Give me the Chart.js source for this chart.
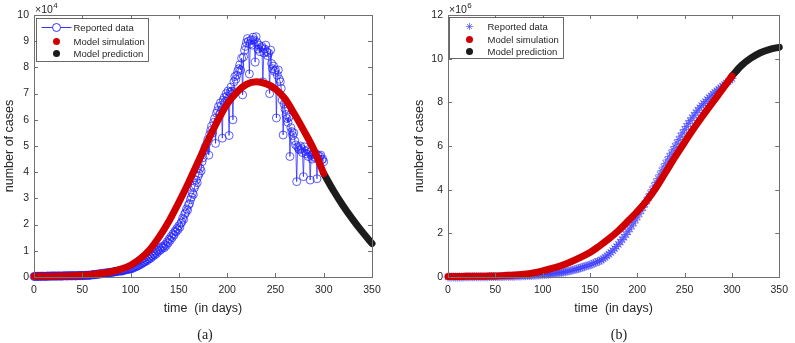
<!DOCTYPE html>
<html>
<head>
<meta charset="utf-8">
<script src="https://cdn.jsdelivr.net/npm/chart.js@4.4.0/dist/chart.umd.min.js"></script>
<style>
body { margin: 0; background: #fff; width: 795px; height: 343px; position: relative; overflow: hidden; }
canvas { position: absolute; top: 0; }
#chartA { left: 0; }
#chartB { left: 400px; }
.cap { position: absolute; top: 326px; width: 40px; text-align: center; line-height: 18px;
       font-family: "Liberation Serif", "Times New Roman", serif; font-size: 14px; color: #222; }
</style>
</head>
<body>
<canvas id="chartA" width="400" height="343"></canvas>
<canvas id="chartB" width="395" height="343"></canvas>
<div class="cap" style="left:185px">(a)</div>
<div class="cap" style="left:599px">(b)</div>
<script>
// (a) daily reported cases, one value per day from day 0 to 300 (x 10^4)
const dailyReported = [
  0.02,0.02,0.03,0.02,0.03,0.03,0.02,0.03,0.03,0.03,
  0.03,0.03,0.02,0.03,0.04,0.03,0.03,0.04,0.03,0.04,
  0.04,0.03,0.04,0.04,0.03,0.04,0.04,0.04,0.03,0.04,
  0.04,0.04,0.05,0.04,0.04,0.05,0.04,0.05,0.05,0.04,
  0.05,0.05,0.05,0.04,0.05,0.05,0.06,0.05,0.05,0.06,
  0.06,0.05,0.06,0.06,0.07,0.06,0.07,0.07,0.06,0.08,
  0.08,0.09,0.08,0.10,0.09,0.11,0.10,0.12,0.11,0.13,
  0.13,0.12,0.14,0.15,0.14,0.16,0.15,0.17,0.16,0.18,
  0.18,0.17,0.20,0.19,0.21,0.20,0.22,0.21,0.24,0.23,
  0.24,0.22,0.26,0.25,0.28,0.27,0.30,0.28,0.32,0.30,
  0.33,0.31,0.36,0.35,0.40,0.38,0.43,0.41,0.47,0.45,
  0.52,0.49,0.56,0.54,0.60,0.58,0.65,0.62,0.70,0.68,
  0.76,0.72,0.82,0.79,0.88,0.84,0.95,0.90,1.02,0.98,
  1.08,1.03,1.15,1.10,1.18,1.12,1.25,1.20,1.35,1.30,
  1.45,1.40,1.55,1.50,1.65,1.60,1.75,1.72,1.85,1.80,
  1.95,1.90,2.05,2.10,2.25,2.20,2.40,2.45,2.60,2.55,
  2.75,2.80,2.95,3.05,3.20,3.15,3.40,3.50,3.70,3.60,
  3.85,3.95,4.15,4.05,4.40,4.55,4.80,4.95,4.85,5.10,
  5.25,4.65,5.45,5.60,5.75,5.50,5.90,6.05,5.10,6.25,
  6.35,6.50,6.20,6.65,6.55,5.30,6.75,6.85,6.70,7.00,
  6.90,7.10,5.40,7.05,7.25,7.10,6.00,7.45,7.65,7.55,
  7.70,7.85,7.95,8.10,7.90,8.35,6.95,8.40,8.65,8.80,
  8.95,9.10,9.00,7.75,8.90,9.05,8.85,9.15,9.05,8.20,
  9.17,8.95,8.70,8.85,8.60,8.75,8.80,7.45,8.55,8.70,
  8.85,8.60,8.45,8.55,7.00,8.66,8.15,7.95,8.05,7.85,
  7.90,6.07,7.70,7.90,7.55,7.45,7.20,6.75,5.42,6.60,
  6.40,6.20,6.05,5.90,6.10,4.60,5.70,5.55,5.40,5.50,
  5.20,5.04,3.64,4.97,4.90,4.85,5.00,4.90,4.75,3.83,
  4.97,4.80,4.70,4.85,4.60,4.75,3.70,4.65,4.50,4.70,
  4.60,4.55,4.70,3.75,4.65,4.50,4.60,4.65,4.47,4.50,
  4.40
];

// model curves, every 10 days
const simDays = [0,10,20,30,40,50,60,70,80,90,100,110,120,130,140,150,160,170,180,190,200,210,220,230,240,250,260,270,280,290,300];
const predDays = [300,310,320,330,340,350];
const simDaily = [0.03,0.03,0.03,0.04,0.05,0.07,0.10,0.14,0.20,0.30,0.45,0.70,1.05,1.55,2.15,2.85,3.60,4.40,5.20,5.95,6.60,7.05,7.35,7.45,7.38,7.18,6.80,6.20,5.55,4.85,3.95];
const predDaily = [3.95,3.30,2.72,2.20,1.72,1.28];

// (b) cumulative reported cases, every 2 days from day 0 to 300 (x 10^6)
const cumReported = [
  0.000,0.001,0.001,0.002,0.002,0.003,0.004,0.004,0.005,0.006,
  0.007,0.007,0.008,0.009,0.010,0.011,0.012,0.013,0.014,0.015,
  0.016,0.017,0.018,0.019,0.020,0.022,0.023,0.024,0.026,0.027,
  0.029,0.031,0.033,0.035,0.038,0.040,0.043,0.046,0.049,0.052,
  0.056,0.060,0.064,0.068,0.073,0.078,0.083,0.089,0.095,0.101,
  0.108,0.115,0.123,0.131,0.140,0.150,0.160,0.171,0.183,0.196,
  0.210,0.225,0.241,0.258,0.277,0.297,0.318,0.340,0.364,0.389,
  0.416,0.444,0.474,0.505,0.527,0.550,0.585,0.625,0.665,0.710,
  0.720,0.775,0.835,0.900,0.970,1.045,1.125,1.210,1.300,1.395,
  1.495,1.600,1.710,1.825,1.945,2.070,2.200,2.335,2.470,2.610,
  2.750,2.895,3.040,3.190,3.345,3.500,3.660,3.825,3.995,4.165,
  4.335,4.510,4.685,4.860,5.035,5.200,5.360,5.520,5.670,5.830,
  5.980,6.140,6.300,6.450,6.600,6.750,6.890,7.030,7.160,7.290,
  7.410,7.530,7.640,7.750,7.850,7.950,8.040,8.130,8.220,8.300,
  8.380,8.460,8.530,8.600,8.670,8.740,8.810,8.880,8.950,9.020,
  9.090
];
const simCum = [0.02,0.02,0.03,0.03,0.04,0.05,0.07,0.09,0.13,0.19,0.28,0.39,0.53,0.70,0.90,1.12,1.42,1.75,2.12,2.55,3.00,3.50,4.10,4.80,5.50,6.17,6.82,7.43,8.02,8.60,9.20];
const predCum = [9.20,9.68,10.02,10.27,10.43,10.52];

const xTitle = 'time  (in days)';
const yTitle = 'number of cases';

const FONT = '"Liberation Sans", Arial, sans-serif';
const TXT = '#262626';
const RED = '#d10000';
const BLACK = '#1c1c1c';

// box, inward ticks, exponent and the legend box (MATLAB style)
const matlabBox = {
  id: 'matlabBox',
  afterDraw(chart, args, o) {
    const { ctx, chartArea: a, scales: { x, y } } = chart;
    ctx.save();
    ctx.strokeStyle = '#707070';
    ctx.lineWidth = 1;
    ctx.strokeRect(Math.round(a.left) + 0.5, Math.round(a.top) + 0.5, Math.round(a.right - a.left), Math.round(a.bottom - a.top));
    ctx.beginPath();
    x.ticks.forEach(t => {
      const px = Math.round(x.getPixelForValue(t.value)) + 0.5;
      ctx.moveTo(px, a.bottom); ctx.lineTo(px, a.bottom - 4);
      ctx.moveTo(px, a.top); ctx.lineTo(px, a.top + 4);
    });
    y.ticks.forEach(t => {
      const py = Math.round(y.getPixelForValue(t.value)) + 0.5;
      ctx.moveTo(a.left, py); ctx.lineTo(a.left + 4, py);
      ctx.moveTo(a.right, py); ctx.lineTo(a.right - 4, py);
    });
    ctx.stroke();

    // exponent
    ctx.fillStyle = TXT;
    ctx.textBaseline = 'alphabetic';
    ctx.font = '10.5px ' + FONT;
    ctx.fillText('\u00d710', a.left + 1, a.top - 2);
    const w = ctx.measureText('\u00d710').width;
    ctx.font = '8px ' + FONT;
    ctx.fillText(o.exp, a.left + 1.5 + w, a.top - 7);

    // legend
    const L = o.legend;
    const bx = Math.round(a.left + L.dx) + 0.5, by = Math.round(a.top + L.dy) + 0.5;
    ctx.fillStyle = '#fff';
    ctx.fillRect(bx, by, L.w, L.h);
    ctx.strokeStyle = '#444';
    ctx.lineWidth = 0.8;
    ctx.strokeRect(bx, by, L.w, L.h);
    chart.data.datasets.forEach((ds, i) => {
      const cy = by + L.rows[i];
      const ix = bx + L.icon;
      if (ds.legendIcon === 'lineCircle') {
        ctx.strokeStyle = ds.borderColor;
        ctx.lineWidth = 1;
        ctx.beginPath(); ctx.moveTo(ix - 15, cy); ctx.lineTo(ix - 4, cy); ctx.moveTo(ix + 4, cy); ctx.lineTo(ix + 15, cy); ctx.stroke();
        ctx.beginPath(); ctx.arc(ix, cy, 4, 0, Math.PI * 2); ctx.stroke();
      } else if (ds.legendIcon === 'star') {
        ctx.strokeStyle = ds.pointBorderColor;
        ctx.lineWidth = 1;
        ctx.beginPath();
        for (let k = 0; k < 4; k++) {
          const ang = k * Math.PI / 4;
          ctx.moveTo(ix - 3.5 * Math.cos(ang), cy - 3.5 * Math.sin(ang));
          ctx.lineTo(ix + 3.5 * Math.cos(ang), cy + 3.5 * Math.sin(ang));
        }
        ctx.stroke();
      } else {
        ctx.fillStyle = ds.borderColor;
        ctx.beginPath(); ctx.arc(ix, cy, 3.5, 0, Math.PI * 2); ctx.fill();
      }
      ctx.fillStyle = TXT;
      ctx.font = '9.5px ' + FONT;
      ctx.textBaseline = 'middle';
      ctx.fillText(ds.label, bx + L.text, cy + 0.5);
    });
    ctx.restore();
  }
};

function makeScales(yMax, yStep, yWidth) {
  return {
    x: {
      type: 'linear', min: 0, max: 350,
      ticks: { stepSize: 50, color: TXT, font: { family: FONT, size: 10.5 }, padding: 7, maxRotation: 0 },
      grid: { display: false, drawTicks: false },
      border: { display: false },
      title: { display: true, text: xTitle, color: TXT, font: { family: FONT, size: 12.5 }, padding: { top: 2, bottom: 4 } },
      afterFit(s) { s.height = 43; }
    },
    y: {
      min: 0, max: yMax,
      ticks: { stepSize: yStep, color: TXT, font: { family: FONT, size: 10.5 }, padding: 5 },
      grid: { display: false, drawTicks: false },
      border: { display: false },
      title: { display: true, text: yTitle, color: TXT, font: { family: FONT, size: 12.5 }, padding: { top: 2, bottom: 0 } },
      afterFit(s) { s.width = yWidth; }
    }
  };
}

function curve(label, days, vals, color) {
  return {
    label: label, legendIcon: 'dot',
    data: days.map((d, i) => ({ x: d, y: vals[i] })),
    borderColor: color, backgroundColor: color,
    borderWidth: 7, pointRadius: 0, cubicInterpolationMode: 'monotone',
    borderCapStyle: 'round', clip: false, order: 0
  };
}

new Chart(document.getElementById('chartA'), {
  type: 'line',
  data: {
    datasets: [
      {
        label: 'Reported data', legendIcon: 'lineCircle',
        data: dailyReported.map((v, i) => ({ x: i, y: v })),
        borderColor: 'rgba(30,30,255,0.9)', borderWidth: 0.8,
        pointStyle: 'circle', pointRadius: 4, pointBorderWidth: 0.8,
        pointBorderColor: 'rgba(30,30,255,0.9)', pointBackgroundColor: 'rgba(0,0,0,0)',
        tension: 0, clip: false, order: 1
      },
      curve('Model simulation', simDays, simDaily, RED),
      curve('Model prediction', predDays, predDaily, BLACK)
    ]
  },
  options: {
    responsive: false, animation: false,
    layout: { padding: { left: 0, top: 15, right: 28, bottom: 23 } },
    scales: makeScales(10, 1, 34),
    plugins: {
      legend: { display: false }, tooltip: { enabled: false },
      matlabBox: { exp: '4', legend: { dx: 2, dy: 3, w: 112, h: 43, icon: 20, text: 37, rows: [9, 23, 35] } }
    }
  },
  plugins: [matlabBox]
});

new Chart(document.getElementById('chartB'), {
  type: 'line',
  data: {
    datasets: [
      {
        label: 'Reported data', legendIcon: 'star',
        data: cumReported.map((v, i) => ({ x: i * 2, y: v })),
        showLine: false, borderColor: 'rgba(60,60,255,0.65)',
        pointStyle: 'star', pointRadius: 4.5, pointBorderWidth: 1.1,
        pointBorderColor: 'rgba(60,60,255,0.65)', pointBackgroundColor: 'rgba(0,0,0,0)',
        clip: false, order: 1
      },
      curve('Model simulation', simDays, simCum, RED),
      curve('Model prediction', predDays, predCum, BLACK)
    ]
  },
  options: {
    responsive: false, animation: false,
    layout: { padding: { left: 10, top: 15, right: 9, bottom: 23 } },
    scales: makeScales(12, 2, 38),
    plugins: {
      legend: { display: false }, tooltip: { enabled: false },
      matlabBox: { exp: '6', legend: { dx: 1, dy: 2, w: 114, h: 41, icon: 20, text: 38, rows: [9, 22, 34] } }
    }
  },
  plugins: [matlabBox]
});
</script>
</body>
</html>
